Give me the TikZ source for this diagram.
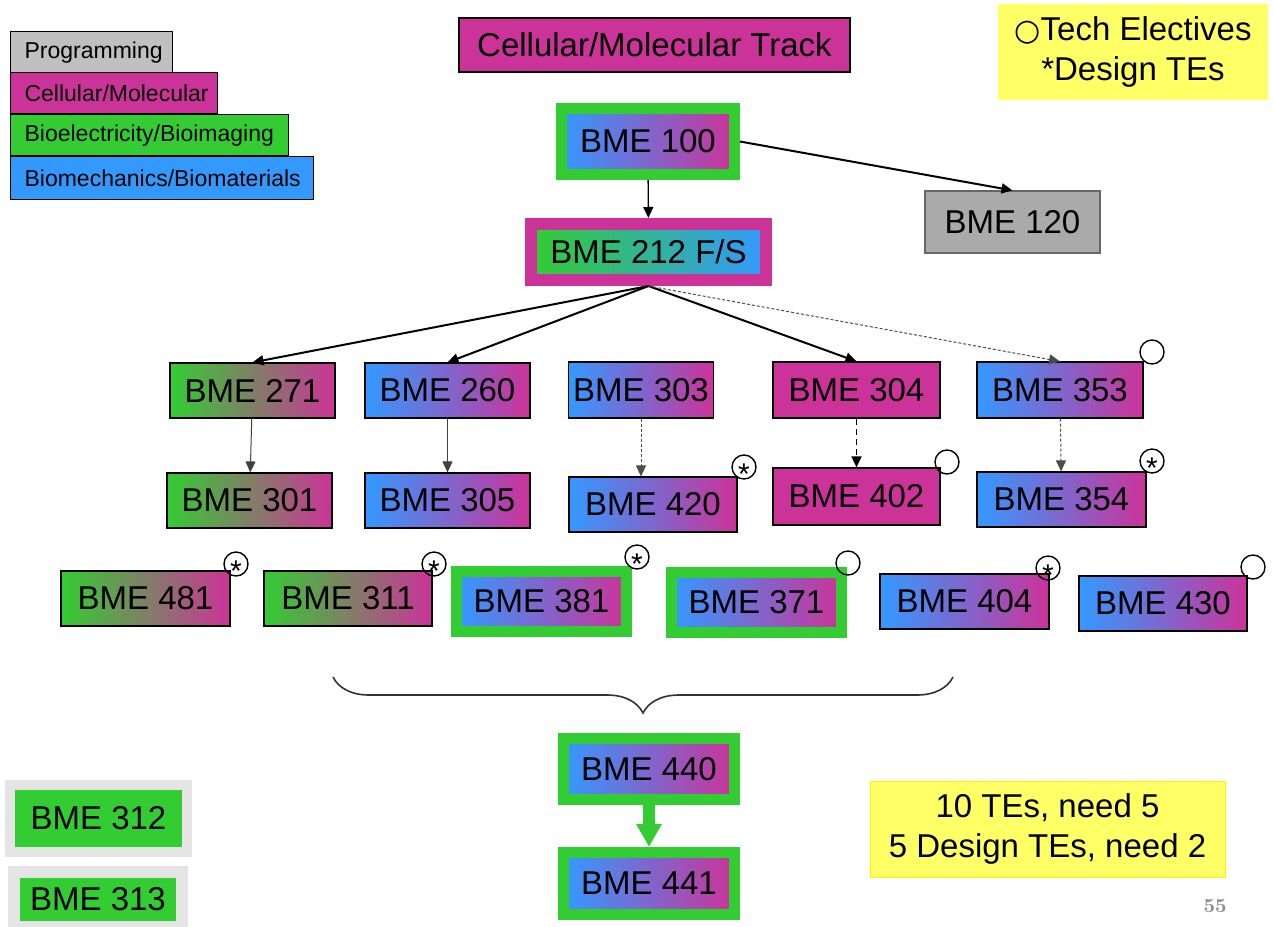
\documentclass[tikz,border=0pt]{standalone}
\usepackage{fontspec}
\newfontfamily\arial{Liberation Sans}
\newfontfamily\djv{DejaVu Sans}
\usetikzlibrary{arrows.meta,decorations.pathreplacing}
\definecolor{cmag}{RGB}{204,51,153}
\definecolor{cgreen}{RGB}{51,204,51}
\definecolor{cblue}{RGB}{51,153,255}
\definecolor{cgray}{RGB}{192,192,192}
\definecolor{dgray}{RGB}{170,170,170}
\definecolor{lgray}{RGB}{229,229,229}
\definecolor{cyell}{RGB}{255,255,102}
\newcommand{\bmefont}{\arial\fontsize{16.5}{20}\selectfont}
\newcommand{\legfont}{\arial\fontsize{11.5}{13}\selectfont}
\newcommand{\ring}{{\djv\fontsize{15}{15}\selectfont ○}}
\newcommand{\dstar}{\smash{\raisebox{-8.6pt}{*}}}
\tikzset{
  course/.style={draw=black,line width=0.6pt,inner sep=0pt,minimum width=82.5pt,minimum height=27.5pt,font=\bmefont},
  bmat/.style={course,left color=cblue,right color=cmag},
  gelec/.style={course,left color=cgreen,right color=cmag},
  cmol/.style={course,fill=cmag},
  ringed/.style={bmat,draw=cgreen,line width=5.5pt,minimum width=85pt,minimum height=30pt},
  legend/.style={draw=black,line width=0.6pt,anchor=north west,inner xsep=7pt,inner ysep=0pt,text width=#1,align=left,minimum height=20.5pt,font=\legfont},
  te/.style={circle,draw=black,line width=0.7pt,minimum size=12pt,inner sep=0pt},
  dte/.style={te,font=\arial\fontsize{15}{15}\selectfont},
  req/.style={->,line width=1pt},
  prereq/.style={->,line width=0.5pt,draw=black!75},
  opt/.style={->,line width=0.5pt,dash pattern=on 1.5pt off 1pt,draw=black!70},
}
\begin{document}
\begin{tikzpicture}[x=0.5pt,y=-0.5pt,>={Triangle[length=5.5pt,width=5pt]}]
\useasboundingbox (0,0) rectangle (1273,926);
% legend
\node[legend=67pt,fill=cgray] (lprog) at (10,31) {Programming};
\node[legend=89.5pt,fill=cmag] (lcell) at (10,72) {Cellular/Molecular};
\node[legend=125pt,fill=cgreen] (lelec) at (10,114) {Bioelectricity/Bioimaging};
\node[legend=137.5pt,fill=cblue,minimum height=21.5pt] (lmech) at (10,156) {Biomechanics/Biomaterials};
% title and key
\node[course,fill=cmag,minimum width=195.5pt,minimum height=27pt] (title) at (654.5,45) {Cellular/Molecular Track};
\node[fill=cyell,align=center,font=\bmefont,minimum width=135pt,minimum height=48pt,inner sep=0pt] (key) at (1133,52) {\ring Tech Electives\\*Design TEs};
% core
\node[ringed,minimum width=86.5pt,minimum height=33pt] (b100) at (648,141.5) {BME 100};
\node[course,fill=dgray,draw=black!60,minimum width=87.5pt,minimum height=31pt] (b120) at (1012.5,222) {BME 120};
\node[course,left color=cgreen,right color=cblue,draw=cmag,line width=6pt,minimum width=117.5pt,minimum height=28pt] (b212) at (648.5,252) {BME 212 F/S};
% first row
\node[gelec] (b271) at (252.5,390.5) {BME 271};
\node[bmat] (b260) at (447.5,390.5) {BME 260};
\node[bmat,minimum width=72.5pt,minimum height=28pt] (b303) at (641,390) {BME 303};
\node[cmol,minimum width=83.5pt,minimum height=28pt] (b304) at (856.5,390) {BME 304};
\node[bmat,minimum width=83pt,minimum height=28pt] (b353) at (1060,390) {BME 353};
% second row
\node[gelec] (b301) at (249.5,500.5) {BME 301};
\node[bmat] (b305) at (447.5,500.5) {BME 305};
\node[bmat,minimum width=84pt] (b420) at (653,504.5) {BME 420};
\node[cmol,minimum width=83.5pt,minimum height=28.5pt] (b402) at (856.5,496.5) {BME 402};
\node[bmat,minimum width=84.5pt] (b354) at (1061.5,499.5) {BME 354};
% electives
\node[gelec,minimum width=84.5pt] (b481) at (145.5,598.5) {BME 481};
\node[gelec,minimum width=84pt] (b311) at (348,598.5) {BME 311};
\node[ringed] (b381) at (541.5,601.5) {BME 381};
\node[ringed] (b371) at (756.5,602) {BME 371};
\node[bmat,minimum width=84.5pt] (b404) at (964.5,601.5) {BME 404};
\node[bmat,minimum width=84pt] (b430) at (1163,603.5) {BME 430};
% TE marks
\node[te] (t353) at (1152,352) {};
\node[dte] (t420) at (744,467) {\dstar};
\node[te] (t402) at (947,462) {};
\node[dte] (t354) at (1152,461) {\dstar};
\node[dte] (t481) at (236,564) {\dstar};
\node[dte] (t311) at (434,564) {\dstar};
\node[dte] (t381) at (637,557) {\dstar};
\node[te] (t371) at (848,563) {};
\node[dte] (t404) at (1048,568) {\dstar};
\node[te] (t430) at (1253,567) {};
% design sequence
\coordinate (bl) at (333,677);
\coordinate (br) at (953,677);
\draw[decorate,decoration={brace,mirror,amplitude=18pt},line width=0.8pt,black!80] (bl) -- (br);
\node[ringed,minimum width=85.5pt,minimum height=30.5pt] (b440) at (649,769) {BME 440};
\node[ringed,minimum width=85.5pt,minimum height=31pt] (b441) at (649,883.5) {BME 441};
\draw[-{Triangle[length=11.5pt,width=12pt]},line width=6pt,cgreen] (b440) -- (b441);
% other
\node[course,fill=cgreen,draw=lgray,line width=5pt,minimum width=88.5pt,minimum height=33.5pt] (b312) at (98.5,818.5) {BME 312};
\node[course,fill=cgreen,draw=lgray,line width=6pt,minimum width=84pt,minimum height=27.5pt] (b313) at (98,899.5) {BME 313};
\node[fill=cyell,draw=yellow,line width=0.5pt,align=center,font=\bmefont,minimum width=177.5pt,minimum height=48pt,inner sep=0pt] (need) at (1047.5,829) {10 TEs, need 5\\5 Design TEs, need 2};
\node[text=black!45,font=\bfseries\fontsize{10}{12}\selectfont] (pg) at (1215,906) {55};
% connectors
\draw[->,line width=0.7pt] (b100) -- (b212);
\draw[req] (b100.east) -- (b120.north);
\draw[req] (b212.south) -- (b271.north);
\draw[req] (b212.south) -- (b260.north);
\draw[req] (b212.south) -- (b304.north);
\draw[opt] (b212.south) -- (b353.north);
\draw[prereq] (b271) -- (b301);
\draw[prereq] (b260) -- (b305);
\draw[opt] (b303.south) -- (b303.south |- b420.north);
\draw[->,line width=0.9pt,dash pattern=on 3pt off 2pt] (b304) -- (b402);
\draw[opt] (b353) -- (b354);
\end{tikzpicture}
\end{document}
